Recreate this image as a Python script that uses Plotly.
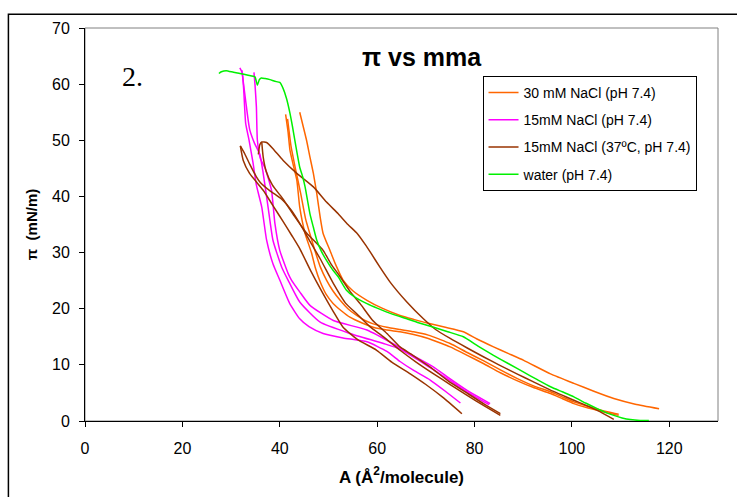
import plotly.graph_objects as go

# ---------------- data ----------------
# 30 mM NaCl (pH 7.4) – three isotherm branches
or_a_x = [41.2, 41.7, 42.1, 42.8, 43.5, 44.1, 45.2, 46.5, 47.3, 48.3, 49.5, 51.0, 52.7, 54.4, 56.8, 59.2, 62.0, 64.7, 67.5, 70.5, 73.0, 75.0, 78.5, 81.9, 85.3, 88.7, 92.0, 95.6, 98.0, 100.4, 103.0, 105.2, 107.5, 109.6]
or_a_y = [54.6, 51.5, 48.2, 45.5, 42.9, 38.1, 33.4, 30.0, 27.3, 24.8, 22.6, 20.9, 19.6, 18.5, 17.5, 16.7, 16.2, 15.9, 15.4, 14.7, 13.9, 13.2, 11.7, 10.2, 8.6, 7.2, 6.0, 4.9, 4.0, 3.1, 2.4, 1.9, 1.4, 1.0]
or_b_x = [41.6, 42.3, 43.2, 44.3, 45.3, 46.3, 47.2, 48.3, 49.6, 50.9, 52.4, 54.0, 55.8, 57.5, 59.2, 62.0, 64.7, 67.5, 70.5, 73.0, 75.0, 78.5, 81.9, 85.3, 88.7, 92.0, 95.6, 98.0, 100.4, 103.0, 105.2, 107.5, 109.6]
or_b_y = [53.8, 49.0, 45.0, 40.5, 36.0, 33.0, 30.4, 27.5, 25.1, 23.2, 21.5, 20.0, 18.8, 17.9, 17.3, 16.7, 16.3, 15.9, 15.3, 14.5, 13.8, 12.2, 10.7, 9.1, 7.6, 6.3, 5.2, 4.3, 3.4, 2.7, 2.1, 1.6, 1.2]
or_c_x = [44.1, 44.8, 45.5, 46.2, 46.9, 47.6, 48.3, 48.9, 50.3, 51.5, 53.0, 55.0, 57.9, 61.0, 64.7, 67.5, 70.5, 74.0, 77.7, 80.5, 83.9, 87.0, 90.1, 95.6, 100.4, 104.5, 108.6, 113.0, 117.9]
or_c_y = [55.0, 52.5, 50.0, 47.0, 44.1, 40.5, 36.3, 33.4, 30.4, 27.8, 25.1, 23.2, 21.5, 20.1, 18.8, 18.1, 17.4, 16.7, 15.9, 14.6, 13.2, 12.0, 10.8, 8.4, 6.7, 5.3, 4.0, 3.0, 2.2]

# 15mM NaCl (pH 7.4)
mg_a_x = [31.8, 32.3, 32.6, 33.0, 33.7, 34.5, 35.2, 36.3, 37.3, 38.6, 40.0, 42.0, 44.1, 46.0, 48.9, 53.0, 57.9, 62.0, 64.7, 67.5, 70.9, 74.0, 77.1]
mg_a_y = [62.9, 62.0, 58.9, 53.0, 50.0, 46.0, 42.0, 38.1, 32.2, 28.0, 25.1, 21.0, 18.2, 16.8, 15.6, 14.8, 14.1, 12.4, 10.6, 9.0, 7.3, 5.3, 3.2]
mg_b_x = [34.7, 34.9, 35.2, 35.4, 36.0, 37.0, 38.3, 39.0, 40.0, 41.7, 42.4, 44.1, 46.2, 51.0, 57.9, 64.0, 67.5, 71.6, 75.0, 78.4, 83.2]
mg_b_y = [62.1, 60.1, 55.9, 50.0, 46.8, 45.0, 41.1, 35.2, 30.4, 26.3, 25.1, 23.0, 20.6, 17.9, 16.2, 13.4, 11.6, 9.6, 7.5, 5.5, 3.1]
mg_c_x = [32.2, 33.0, 33.8, 34.8, 35.9, 36.6, 37.6, 38.6, 40.4, 41.7, 44.1, 48.3, 54.4, 61.3, 64.7, 70.9, 75.0, 78.4, 83.0]
mg_c_y = [62.5, 57.0, 52.0, 49.5, 47.5, 44.1, 38.1, 32.2, 27.4, 25.1, 21.2, 17.6, 15.6, 13.8, 12.8, 9.5, 7.2, 5.2, 2.9]

# 15mM NaCl (37ºC, pH 7.4)
br_a_x = [31.9, 32.5, 33.8, 36.6, 38.5, 40.7, 42.5, 44.1, 46.5, 49.0, 51.0, 53.0, 56.0, 59.9, 63.0, 66.8, 70.0, 73.5, 77.4]
br_a_y = [49.0, 46.4, 44.1, 41.1, 38.5, 35.5, 33.0, 30.7, 26.5, 22.5, 19.5, 16.7, 14.5, 12.6, 10.5, 8.4, 6.5, 4.2, 1.3]
br_b_x = [31.9, 32.8, 33.8, 35.2, 36.0, 38.0, 40.4, 42.4, 44.1, 46.2, 48.3, 51.0, 53.5, 55.8, 58.5, 61.3, 64.7, 68.0, 71.6, 75.0, 78.4, 82.0, 85.3]
br_b_y = [49.0, 47.6, 45.8, 43.5, 42.5, 41.0, 39.5, 37.5, 35.2, 32.0, 28.9, 24.5, 21.0, 19.1, 16.8, 15.0, 12.6, 10.5, 8.4, 6.5, 4.6, 2.7, 1.0]
br_c_x = [36.3, 36.6, 37.2, 38.5, 40.7, 43.0, 45.5, 48.9, 50.5, 52.4, 54.5, 56.5, 59.0, 62.0, 64.7, 66.8, 70.9, 74.5, 78.4, 82.0, 85.3]
br_c_y = [49.7, 47.0, 44.5, 42.0, 39.5, 36.5, 33.5, 30.4, 28.0, 25.7, 23.0, 20.9, 18.0, 15.6, 13.2, 12.0, 9.6, 7.2, 5.0, 3.0, 1.3]
br_d_x = [35.6, 35.9, 36.3, 37.3, 38.6, 40.7, 43.5, 46.9, 49.6, 52.0, 54.0, 55.9, 57.5, 58.8, 60.5, 62.7, 66.1, 69.5, 72.0, 75.0, 78.5, 81.9, 85.0, 88.7, 92.0, 95.6, 100.4, 105.2, 108.6]
br_d_y = [47.5, 49.2, 49.7, 49.6, 48.5, 46.4, 44.1, 41.7, 39.0, 36.9, 35.0, 33.4, 31.5, 29.8, 27.5, 24.7, 21.2, 18.2, 16.3, 14.7, 13.0, 11.4, 10.0, 8.4, 7.0, 5.5, 3.7, 1.9, 0.3]

# water (pH 7.4)
gr_x = [27.5, 28.0, 29.0, 30.5, 31.8, 33.5, 34.9, 35.4, 35.8, 36.2, 37.0, 38.0, 39.0, 40.0, 40.7, 41.4, 42.1, 42.6, 43.1, 43.6, 44.1, 44.7, 45.2, 45.7, 46.2, 46.9, 47.6, 48.5, 49.6, 50.8, 52.0, 53.7, 55.5, 57.9, 60.0, 62.0, 64.7, 66.1, 68.5, 71.6, 74.5, 77.7, 80.8, 83.9, 87.0, 90.1, 92.8, 95.6, 98.0, 100.4, 102.8, 105.2, 107.0, 108.6, 110.3, 112.0, 114.0, 115.8]
gr_y = [61.9, 62.2, 62.4, 62.1, 61.9, 61.6, 61.3, 59.8, 60.8, 61.1, 61.0, 60.8, 60.5, 60.3, 59.2, 57.4, 54.8, 52.5, 50.0, 47.5, 45.2, 43.5, 41.7, 39.3, 36.9, 34.5, 32.2, 30.3, 28.6, 27.0, 25.7, 23.3, 22.0, 20.9, 20.1, 19.4, 18.6, 18.2, 17.5, 16.7, 15.9, 15.0, 13.3, 11.7, 10.2, 8.7, 7.4, 6.1, 5.2, 4.3, 3.2, 2.2, 1.5, 1.0, 0.55, 0.25, 0.1, 0.1]

series_names = ["30 mM NaCl (pH 7.4)", "15mM NaCl (pH 7.4)", "15mM NaCl (37ºC, pH 7.4)", "water (pH 7.4)"]
series_colors = ["#FF6600", "#FF00FF", "#993300", "#00F000"]
series_curves = [
    [(or_a_x, or_a_y), (or_b_x, or_b_y), (or_c_x, or_c_y)],
    [(mg_a_x, mg_a_y), (mg_b_x, mg_b_y), (mg_c_x, mg_c_y)],
    [(br_a_x, br_a_y), (br_b_x, br_b_y), (br_c_x, br_c_y), (br_d_x, br_d_y)],
    [(gr_x, gr_y)],
]

x_ticks = [0, 20, 40, 60, 80, 100, 120]
y_ticks = [0, 10, 20, 30, 40, 50, 60, 70]

FONT = "Arial, 'Liberation Sans', sans-serif"

fig = go.Figure()
for name, color, curves in zip(series_names, series_colors, series_curves):
    xs, ys = [], []
    for cx, cy in curves:
        xs += list(cx) + [None]
        ys += list(cy) + [None]
    fig.add_trace(go.Scatter(
        x=xs, y=ys, mode="lines", name=name, legendgroup=name,
        connectgaps=False,
        line=dict(color=color, width=1.5, shape="spline", smoothing=0.5),
    ))

fig.update_layout(
    width=737, height=497,
    margin=dict(l=85, r=19, t=28, b=76),
    paper_bgcolor="white", plot_bgcolor="white",
    font=dict(family=FONT, color="black"),
    showlegend=True,
    legend=dict(
        x=0.628, y=0.878, xanchor="left", yanchor="top",
        bordercolor="black", borderwidth=1, bgcolor="white",
        font=dict(size=14, family=FONT),
        itemwidth=30, tracegroupgap=6,
    ),
    xaxis=dict(
        range=[0, 130], tickvals=x_ticks, ticks="outside", ticklen=5,
        tickcolor="black", showline=True, linecolor="black", linewidth=1,
        showgrid=False, zeroline=False, ticklabelstandoff=8,
        tickfont=dict(size=16, family=FONT),
        title=dict(text="<b>A (Å<sup>2</sup>/molecule)</b>", font=dict(size=17, family=FONT), standoff=14),
    ),
    yaxis=dict(
        range=[0, 70], tickvals=y_ticks, ticks="outside", ticklen=5,
        tickcolor="black", showline=True, linecolor="black", linewidth=1,
        showgrid=False, zeroline=False, ticklabelstandoff=6,
        tickfont=dict(size=16, family=FONT),
        title=dict(text="<b>π  (mN/m)</b>", font=dict(size=15, family=FONT), standoff=10),
    ),
    shapes=[
        # plot-area border (grey)
        dict(type="rect", xref="paper", yref="paper", x0=0, x1=1, y0=0, y1=1,
             line=dict(color="#808080", width=1), layer="below"),
        # outer chart frame
        dict(type="rect", xref="paper", yref="paper", x0=-0.121, x1=1.2, y0=-0.4, y1=1.0349,
             line=dict(color="black", width=1.5), layer="below"),
    ],
    annotations=[
        dict(text="<b>π vs mma</b>", xref="paper", yref="paper", x=0.532, y=0.925,
             xanchor="center", yanchor="middle", showarrow=False,
             font=dict(size=25, family=FONT)),
        dict(text="2.", xref="paper", yref="paper", x=0.075, y=0.877,
             xanchor="center", yanchor="middle", showarrow=False,
             font=dict(size=28, family="'Liberation Serif', 'Times New Roman', serif")),
    ],
)

fig.write_html("out.html")
